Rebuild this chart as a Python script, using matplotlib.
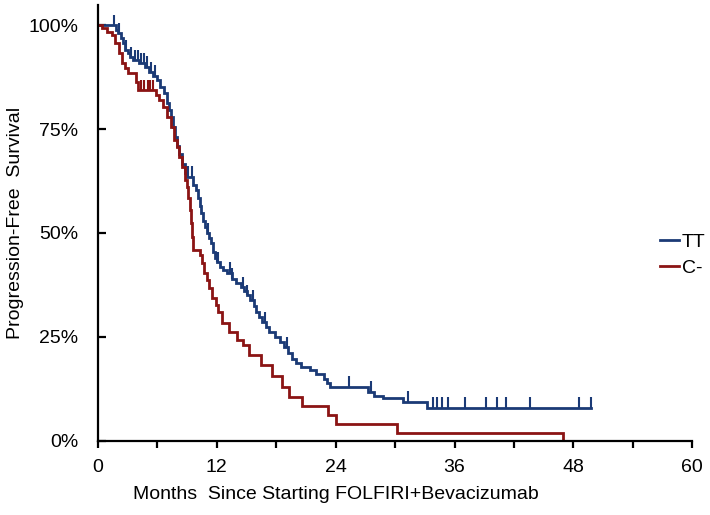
import numpy as np
import matplotlib
matplotlib.use("Agg")
import matplotlib.pyplot as plt
from matplotlib.ticker import MultipleLocator, FuncFormatter

plt.rcParams['font.family'] = ['Liberation Sans', 'DejaVu Sans']

# TT group: step times (months) and survival after each step
tt_times = [0, 1.8, 2.0, 2.3, 2.5, 2.7, 3.0, 3.2, 3.5, 4.1, 4.7, 5.2, 5.6, 6.0, 6.3,
            6.7, 7.0, 7.2, 7.4, 7.6, 7.8, 8.0, 8.2, 8.5, 8.8, 9.0, 9.6, 9.9, 10.1,
            10.3, 10.4, 10.6, 10.8, 11.0, 11.2, 11.4, 11.6, 11.8, 12.0, 12.3, 12.6,
            13.0, 13.5, 13.9, 14.4, 14.7, 15.0, 15.3, 15.8, 16.0, 16.3, 16.6, 17.0,
            17.3, 17.9, 18.4, 18.8, 19.2, 19.6, 20.0, 20.5, 21.4, 22.0, 22.8, 23.1,
            23.4, 27.3, 27.9, 28.8, 30.8, 33.2]
tt_surv = [1.0, 0.988, 0.980, 0.968, 0.957, 0.940, 0.933, 0.923, 0.915, 0.909, 0.900,
           0.887, 0.878, 0.868, 0.851, 0.837, 0.812, 0.796, 0.779, 0.755, 0.730, 0.710,
           0.690, 0.665, 0.645, 0.635, 0.615, 0.603, 0.585, 0.565, 0.548, 0.530, 0.514,
           0.500, 0.488, 0.476, 0.455, 0.440, 0.430, 0.418, 0.410, 0.404, 0.390, 0.380,
           0.370, 0.360, 0.350, 0.338, 0.325, 0.310, 0.298, 0.286, 0.274, 0.262, 0.250,
           0.238, 0.225, 0.212, 0.198, 0.188, 0.177, 0.170, 0.160, 0.148, 0.138, 0.130,
           0.118, 0.108, 0.102, 0.094, 0.080]
tt_end = 49.8
tt_censor = [1.6, 2.1, 2.8, 3.3, 3.7, 4.0, 4.3, 4.6, 4.9, 5.4, 5.8, 9.1, 9.5, 11.1,
             12.0, 12.1, 13.3, 13.5, 14.6, 15.0, 15.7, 16.9, 19.1, 25.3, 27.6, 31.3,
             33.8, 34.2, 34.7, 35.3, 37.1, 39.2, 40.3, 41.2, 43.6, 48.6, 49.8]

# C- group
c_times = [0, 0.4, 0.9, 1.4, 1.7, 2.1, 2.4, 2.7, 3.0, 3.8, 4.0, 5.9, 6.2, 6.6, 7.0,
           7.4, 7.7, 8.0, 8.2, 8.5, 8.8, 9.0, 9.1, 9.3, 9.4, 9.5, 9.6, 10.3, 10.5,
           10.7, 11.0, 11.2, 11.5, 11.9, 12.1, 12.5, 13.2, 14.0, 14.6, 15.2, 16.5,
           17.6, 18.6, 19.3, 20.6, 23.2, 24.0, 30.2, 46.9]
c_surv = [1.0, 0.993, 0.983, 0.976, 0.957, 0.933, 0.910, 0.897, 0.885, 0.863, 0.844,
          0.832, 0.820, 0.803, 0.779, 0.755, 0.724, 0.707, 0.683, 0.659, 0.627, 0.610,
          0.585, 0.555, 0.524, 0.490, 0.459, 0.447, 0.428, 0.404, 0.387, 0.368, 0.344,
          0.327, 0.310, 0.284, 0.262, 0.243, 0.230, 0.207, 0.183, 0.156, 0.130, 0.106,
          0.084, 0.062, 0.041, 0.019, 0.0]
c_end = 46.9
c_censor = [4.3, 4.6, 5.0, 5.3, 5.6]

labels = ["TT", "C-"]
colors = ["#1b3a76", "#8b1414"]


def surv_at(times, surv, t):
    i = np.searchsorted(times, t, side="right") - 1
    return surv[i]


fig = plt.figure(figsize=(7.1, 5.15), dpi=100)
ax = fig.add_axes([0.138, 0.144, 0.837, 0.846])

groups = [(tt_times, tt_surv, tt_end, tt_censor), (c_times, c_surv, c_end, c_censor)]
for (times, surv, end, cens), lab, col in zip(groups, labels, colors):
    x = list(times) + [end]
    y = list(surv) + [surv[-1]]
    ax.step(x, y, where="post", color=col, lw=2.0, label=lab, solid_joinstyle="miter")
    ys = [surv_at(times, surv, t) for t in cens]
    ax.vlines(cens, ys, np.array(ys) + 0.025, color=col, lw=1.5)

ax.set_xlim(0, 60)
ax.set_ylim(0, 1.048)
ax.xaxis.set_major_locator(MultipleLocator(12))
ax.xaxis.set_minor_locator(MultipleLocator(6))
ax.set_yticks([0, 0.25, 0.5, 0.75, 1.0])
ax.yaxis.set_major_formatter(FuncFormatter(lambda v, p: f"{v*100:.0f}%"))

for s in ["top", "right"]:
    ax.spines[s].set_visible(False)
for s in ["left", "bottom"]:
    ax.spines[s].set_linewidth(1.6)

fs = 14
ax.tick_params(axis="x", which="both", direction="out", length=5, width=1.6, labelsize=fs, pad=8)
ax.tick_params(axis="y", direction="in", length=6, width=1.6, labelsize=fs, pad=14)

ax.set_xlabel("Months  Since Starting FOLFIRI+Bevacizumab", fontsize=fs, x=0.40, labelpad=7)
ax.set_ylabel("Progression-Free  Survival", fontsize=fs, labelpad=3)

fig.legend(loc="center left", bbox_to_anchor=(0.918, 0.505), frameon=False, fontsize=fs,
           handlelength=1.0, handletextpad=0.15, labelspacing=0.45, borderaxespad=0)

fig.savefig("out.png", dpi=100)
